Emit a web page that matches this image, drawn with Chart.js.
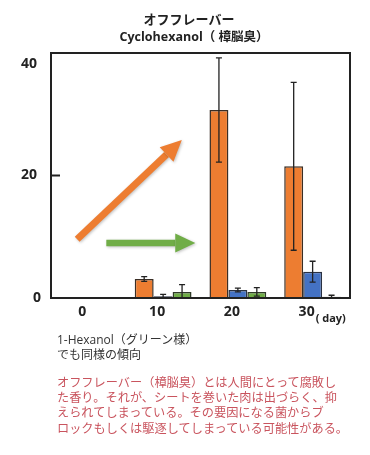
<!DOCTYPE html>
<html><head><meta charset="utf-8">
<script src="https://cdn.jsdelivr.net/npm/chart.js@4/dist/chart.umd.min.js"></script>
<style>
html,body{margin:0;padding:0;background:#fff;}
#wrap{position:relative;width:370px;height:455px;overflow:hidden;}
canvas{position:absolute;left:0;top:0;}
.t{position:absolute;white-space:nowrap;font-family:"Open Sans","Noto Sans CJK JP",sans-serif;}
</style></head><body>
<div id="wrap">
<canvas id="c" width="370" height="455"></canvas>
<div class="t" style="left:0;width:378px;top:9px;text-align:center;font-weight:bold;font-size:13px;color:#222;font-family:'Noto Sans CJK JP',sans-serif;">オフフレーバー</div>
<div class="t" style="left:0;width:388px;top:26px;text-align:center;font-weight:bold;font-size:12.5px;color:#222;">Cyclohexanol（ 樟脳臭）</div>
<div class="t" style="left:57px;top:333px;font-size:12px;color:#333;line-height:14px;">1-Hexanol（グリーン様）<br><span style="font-family:'Noto Sans CJK JP',sans-serif;">でも同様の傾向</span></div>
<div class="t" style="left:57px;top:375px;font-size:12.2px;color:#c9545e;line-height:15.2px;font-family:'Noto Sans CJK JP',sans-serif;">オフフレーバー（樟脳臭）とは人間にとって腐敗し<br>た香り。それが、シートを巻いた肉は出づらく、抑<br>えられてしまっている。その要因になる菌からブ<br>ロックもしくは駆逐してしまっている可能性がある。</div>
</div>
<script>
const categories = ["0", "10", "20", "30"];
const seriesNames = ["系列1", "系列2", "系列3"];
const orangeValues = [0, 3.1, 30.7, 21.5];
const orangeErrors = [0, 0.4, 8.5, 13.7];
const blueValues = [0, 0.3, 1.3, 4.3];
const blueErrors = [0, 0.3, 0.3, 1.7];
const greenValues = [0, 1.0, 1.0, 0.2];
const greenErrors = [0, 1.2, 0.7, 0.25];
const yTicks = [0, 20, 40];

const errs = [orangeErrors, blueErrors, greenErrors];

const extras = {
  id: 'extras',
  afterDatasetsDraw(chart) {
    const ctx = chart.ctx, a = chart.chartArea;
    const xs = chart.scales.x, ys = chart.scales.y;
    ctx.save();
    // error bars
    ctx.strokeStyle = '#222'; ctx.lineWidth = 1.3;
    chart.data.datasets.forEach((ds, i) => {
      const meta = chart.getDatasetMeta(i);
      meta.data.forEach((el, j) => {
        const v = ds.data[j], e = errs[i][j];
        if (!v && !e) return;
        const y1 = ys.getPixelForValue(v + e), y2 = ys.getPixelForValue(Math.max(0, v - e));
        ctx.beginPath();
        ctx.moveTo(el.x, y1); ctx.lineTo(el.x, y2);
        ctx.moveTo(el.x - 3, y1); ctx.lineTo(el.x + 3, y1);
        ctx.moveTo(el.x - 3, y2); ctx.lineTo(el.x + 3, y2);
        ctx.stroke();
      });
    });
    // frame
    ctx.strokeStyle = '#222'; ctx.lineWidth = 2;
    ctx.strokeRect(a.left, a.top, a.right - a.left, a.bottom - a.top);
    // inward ticks + y labels
    ctx.fillStyle = '#222'; ctx.font = 'bold 14px "Open Sans", sans-serif';
    ctx.textAlign = 'right'; ctx.textBaseline = 'middle';
    yTicks.forEach(t => {
      const y = ys.getPixelForValue(t);
      ctx.beginPath(); ctx.moveTo(a.left, y); ctx.lineTo(a.left + 9, y); ctx.stroke();
      ctx.fillText(String(t), a.left - 14 + (t === 0 ? 4 : 0), Math.max(y, a.top + 11));
    });
    // arrows
    function arrow(x1, y1, x2, y2, color, w, hl, hw) {
      const ang = Math.atan2(y2 - y1, x2 - x1);
      const bx = x2 - hl * Math.cos(ang), by = y2 - hl * Math.sin(ang);
      ctx.save();
      ctx.shadowColor = 'rgba(0,0,0,0.25)'; ctx.shadowBlur = 3; ctx.shadowOffsetX = 1; ctx.shadowOffsetY = 1;
      ctx.strokeStyle = color; ctx.fillStyle = color; ctx.lineWidth = w; ctx.lineCap = 'butt';
      ctx.beginPath(); ctx.moveTo(x1, y1); ctx.lineTo(bx, by); ctx.stroke();
      ctx.beginPath();
      ctx.moveTo(x2, y2);
      ctx.lineTo(bx + hw / 2 * Math.sin(ang), by - hw / 2 * Math.cos(ang));
      ctx.lineTo(bx - hw / 2 * Math.sin(ang), by + hw / 2 * Math.cos(ang));
      ctx.closePath(); ctx.fill();
      ctx.restore();
    }
    arrow(xs.getPixelForValue(-0.15), ys.getPixelForValue(9.6), xs.getPixelForValue(1.25), ys.getPixelForValue(25.8), '#ED7D31', 7, 21, 20);
    arrow(xs.getPixelForValue(0.24), ys.getPixelForValue(9.0), xs.getPixelForValue(1.43), ys.getPixelForValue(9.0), '#70AD47', 6.5, 20, 19);
    // unit
    ctx.fillStyle = '#222'; ctx.font = 'bold 11px "Open Sans", sans-serif';
    ctx.textBaseline = 'middle'; ctx.textAlign = 'left';
    ctx.fillText('( day)', xs.getPixelForValue(3) + 3, a.bottom + 21);
    ctx.restore();
  }
};

new Chart(document.getElementById('c'), {
  type: 'bar',
  data: {
    labels: categories,
    datasets: [
      { label: seriesNames[0], data: orangeValues, backgroundColor: '#ED7D31', borderColor: '#3a2e25', borderWidth: 1.5 },
      { label: seriesNames[1], data: blueValues, backgroundColor: '#4472C4', borderColor: '#2a3142', borderWidth: 1.5 },
      { label: seriesNames[2], data: greenValues, backgroundColor: '#70AD47', borderColor: '#2f3a28', borderWidth: 1.5 }
    ]
  },
  options: {
    responsive: false, animation: false, devicePixelRatio: 1,
    layout: { padding: { left: 0, right: 20, top: 53, bottom: 127 } },
    plugins: { legend: { display: false }, title: { display: false }, tooltip: { enabled: false } },
    datasets: { bar: { categoryPercentage: 0.76, barPercentage: 1.0 } },
    scales: {
      x: {
        afterFit(s) { s.height = 30; },
        grid: { display: false, drawTicks: false },
        border: { display: false },
        ticks: { padding: 6, labelOffset: -6, color: '#222', font: { family: '"Open Sans", sans-serif', weight: 'bold', size: 14 } }
      },
      y: {
        min: 0, max: 40,
        afterFit(s) { s.width = 51; },
        afterBuildTicks(s) { s.ticks = yTicks.map(v => ({ value: v })); },
        grid: { display: false, drawTicks: false },
        border: { display: false },
        ticks: { display: false }
      }
    }
  },
  plugins: [extras]
});
</script>
</body></html>
